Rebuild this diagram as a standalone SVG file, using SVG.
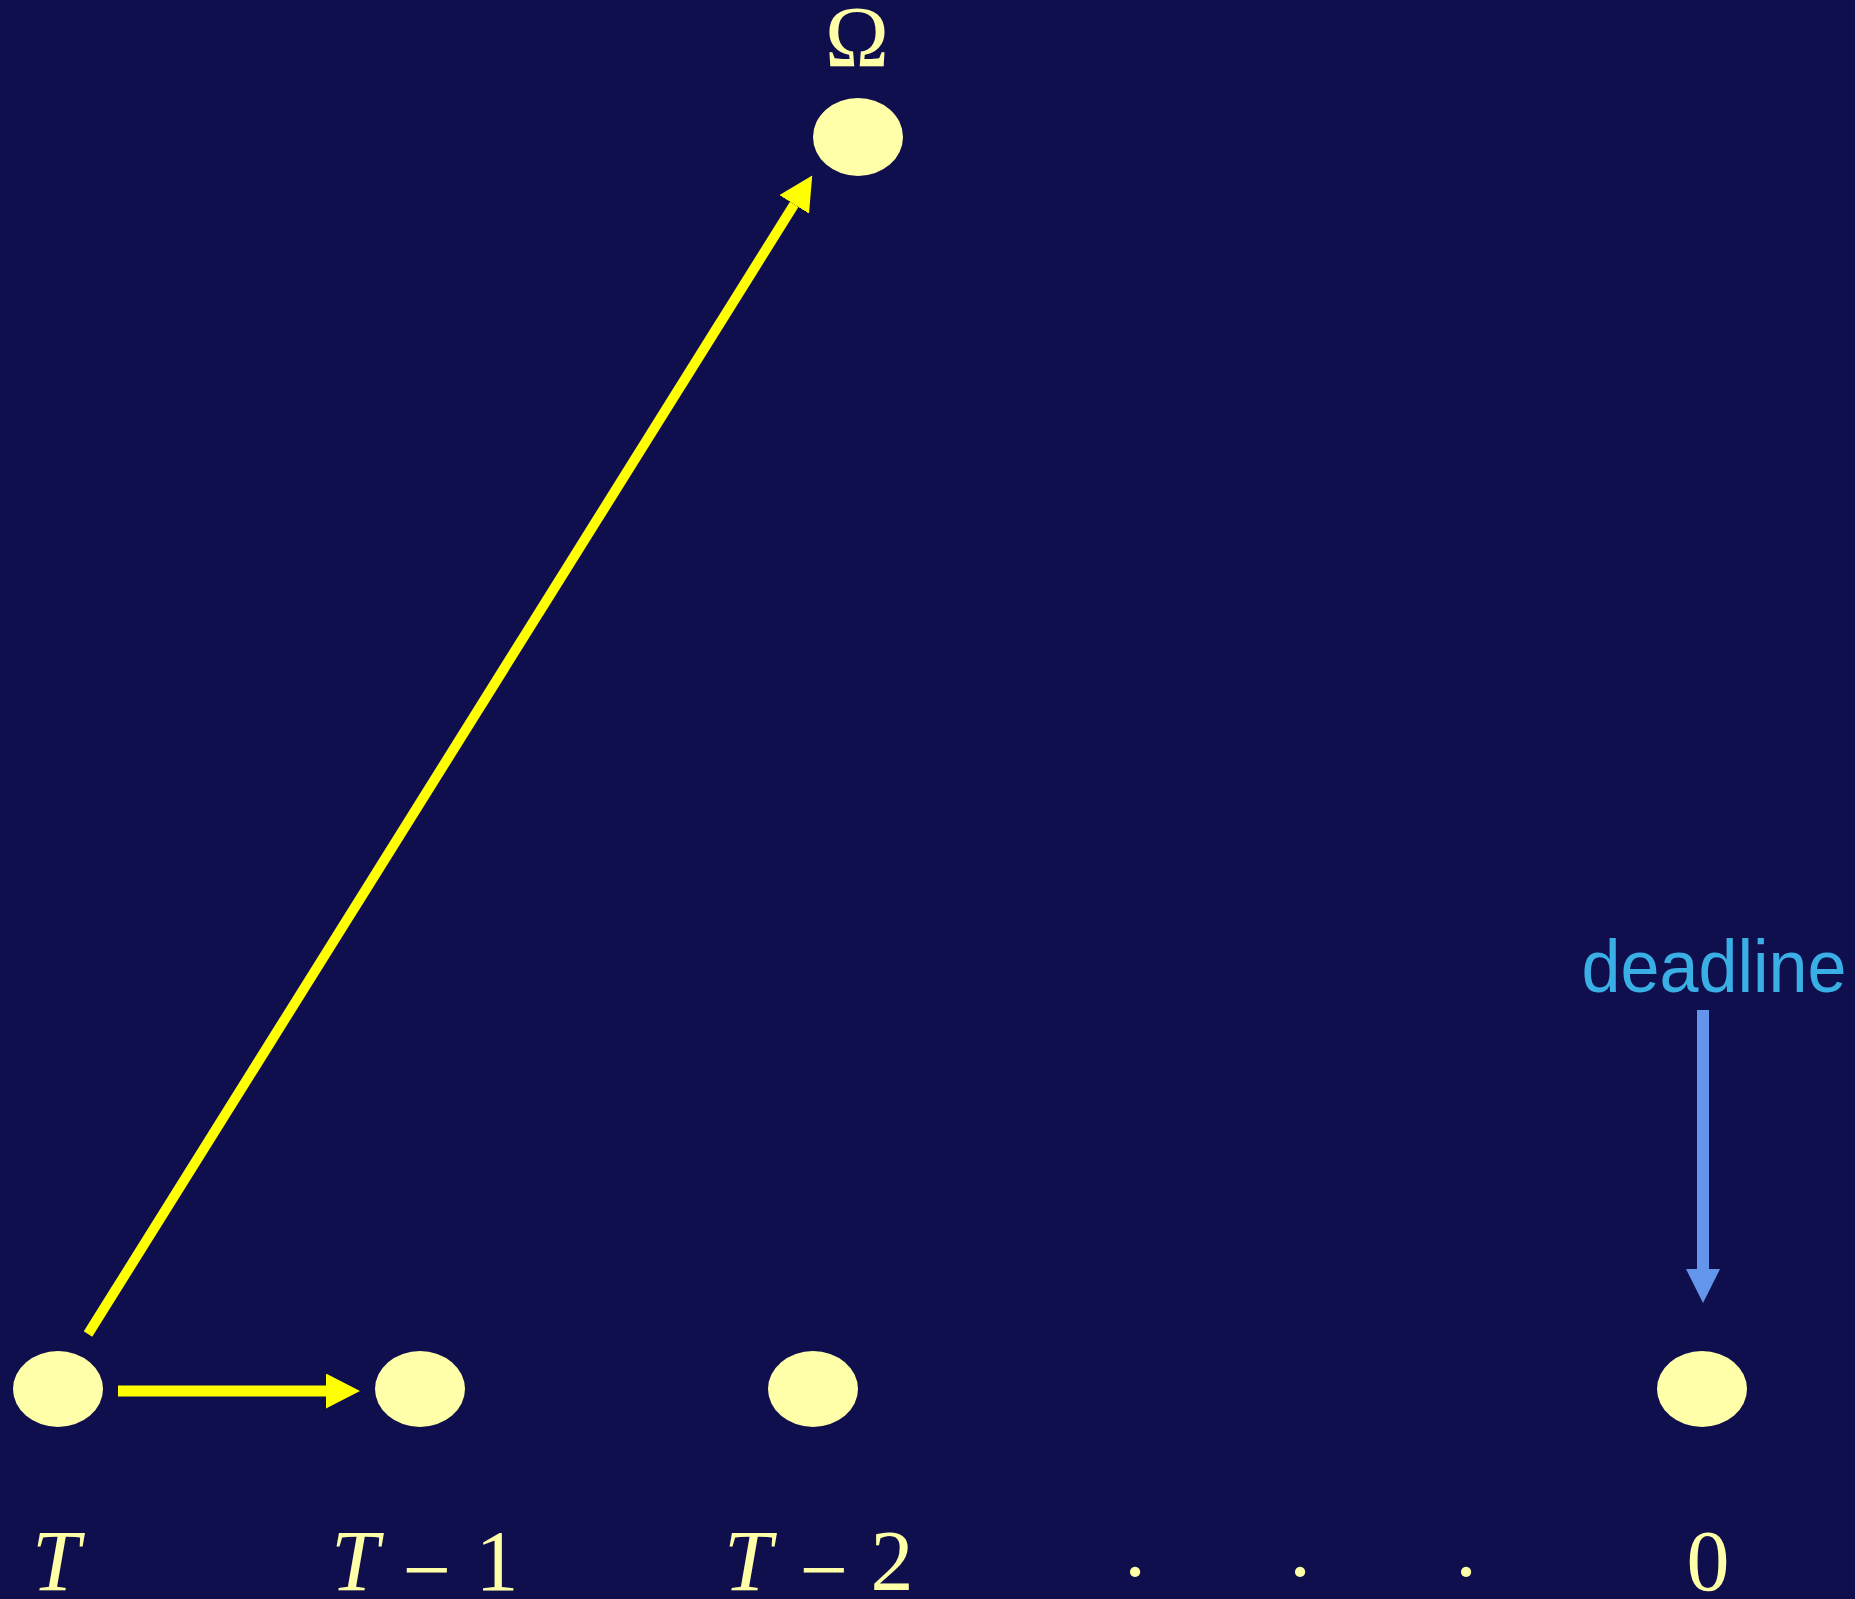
<svg xmlns="http://www.w3.org/2000/svg" width="1855" height="1599" viewBox="0 0 1855 1599">
<style>
.node{fill:#FFFFAA}
.lbl{fill:#FFFFA8;font-family:"Liberation Serif","Times New Roman",serif;font-size:86px;text-anchor:middle}
.it{font-style:italic}
.yel{stroke:#FFFF00;fill:none}
.blue{stroke:#6495ED;fill:none}
.dl{fill:#3AAFE6;font-family:"Liberation Sans",Arial,sans-serif;font-size:74px;text-anchor:middle}
</style>
<defs>
<marker id="ya" markerUnits="userSpaceOnUse" viewBox="0 0 34 35" refX="0" refY="17.5" markerWidth="34" markerHeight="35" orient="auto"><path d="M0,0 L34,17.5 L0,35 z" fill="#FFFF00"/></marker>
<marker id="ba" markerUnits="userSpaceOnUse" viewBox="0 0 34 34" refX="0" refY="17" markerWidth="34" markerHeight="34" orient="auto"><path d="M0,0 L34,17 L0,34 z" fill="#6495ED"/></marker>
</defs>
<rect width="1855" height="1599" fill="#100F4E"/>
<g id="node-omega">
<ellipse class="node" cx="858" cy="137" rx="45" ry="39"/>
<text class="lbl" x="857" y="66">Ω</text>
</g>
<g id="node-T">
<ellipse class="node" cx="58" cy="1389" rx="45" ry="38"/>
<text class="lbl it" x="56" y="1590">T</text>
</g>
<g id="node-T1">
<ellipse class="node" cx="420" cy="1389" rx="45" ry="38"/>
<text class="lbl it" x="355" y="1590">T</text>
<text class="lbl" x="427" y="1599">−</text>
<text class="lbl" x="497" y="1590">1</text>
</g>
<g id="node-T2">
<ellipse class="node" cx="813" cy="1389" rx="45" ry="38"/>
<text class="lbl it" x="748" y="1590">T</text>
<text class="lbl" x="824" y="1599">−</text>
<text class="lbl" x="892" y="1590">2</text>
</g>
<g id="dots">
<text class="lbl" x="1135" y="1601">·</text>
<text class="lbl" x="1300" y="1601">·</text>
<text class="lbl" x="1466" y="1601">·</text>
</g>
<g id="node-0">
<ellipse class="node" cx="1702" cy="1389" rx="45" ry="38"/>
<text class="lbl" x="1708" y="1590">0</text>
</g>
<g id="deadline-label">
<text class="dl" x="1714" y="992" textLength="265" lengthAdjust="spacingAndGlyphs">deadline</text>
</g>
<g id="connectors">
<line class="yel" x1="118" y1="1391" x2="326" y2="1391" stroke-width="11" marker-end="url(#ya)"/>
<line class="yel" x1="88" y1="1334" x2="794.2" y2="204.4" stroke-width="10" marker-end="url(#ya)"/>
<line class="blue" x1="1703" y1="1010" x2="1703" y2="1269" stroke-width="12" marker-end="url(#ba)"/>
</g>
</svg>
